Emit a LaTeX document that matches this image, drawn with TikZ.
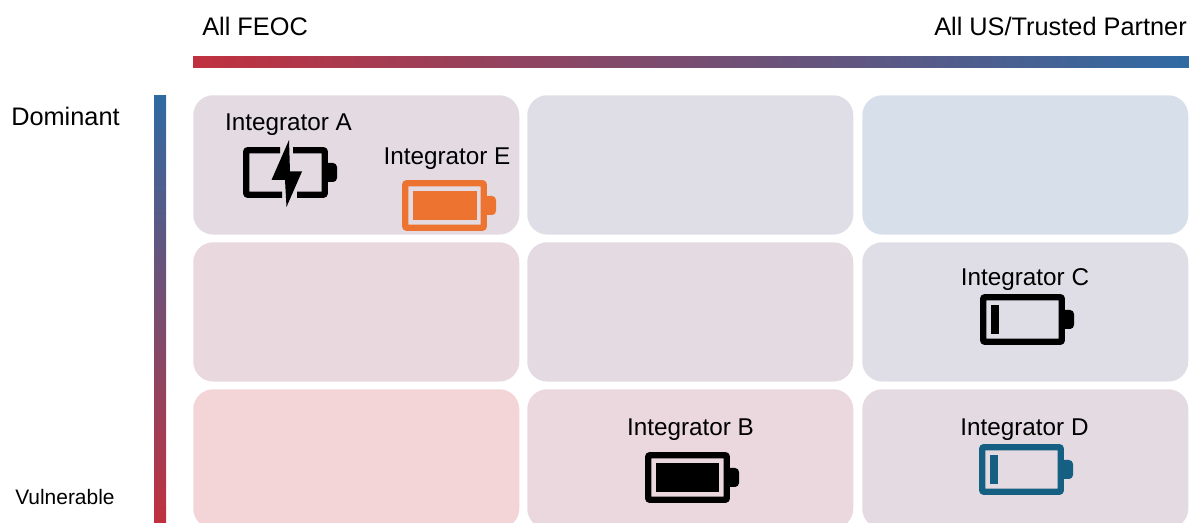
\documentclass[tikz,border=0pt]{standalone}
\usepackage{xcolor}
\usepackage{fontspec}
\setmainfont{Liberation Sans}
\usetikzlibrary{positioning}
\definecolor{gridred}{HTML}{C0313F}
\definecolor{gridblue}{HTML}{2F6AA3}
\definecolor{battorange}{HTML}{ED7430}
\definecolor{battblue}{HTML}{156082}
\definecolor{cellA}{HTML}{E3DAE2}
\definecolor{cellB}{HTML}{DFDEE7}
\definecolor{cellC}{HTML}{D7E0EA}
\definecolor{cellD}{HTML}{E9D9DF}
\definecolor{cellE}{HTML}{E3DAE2}
\definecolor{cellF}{HTML}{DFDEE7}
\definecolor{cellG}{HTML}{F3D5D8}
\definecolor{cellH}{HTML}{EBD7DE}
\definecolor{cellI}{HTML}{E3DAE2}
\tikzset{
	cellbox/.style={anchor=north west,inner sep=0pt,rounded corners=15pt,minimum width=244.5pt,minimum height=104.5pt},
	intlabel/.style={anchor=base,inner sep=0pt,font=\fontsize{18.2pt}{20pt}\selectfont},
	axislabel/.style={anchor=base west,inner sep=0pt,font=\fontsize{19pt}{22pt}\selectfont},
	pics/battery/.style args={#1/#2}{code={
		\draw[#1,line width=4.7pt,rounded corners=1.5pt] (3.15,3.15) rectangle (81.85,47.85);
		\fill[#1] (83,16) -- (90,16) to[out=0,in=90] (94,20) -- (94,31) to[out=-90,in=0] (90,35) -- (83,35) -- cycle;
		\fill[#1] (11,11) rectangle (#2,40);
	}}
}

\begin{document}
\begin{tikzpicture}[x=0.75pt,y=-0.75pt]
	\useasboundingbox (0,0) rectangle (1189,523);
	% colour bars
	\fill[left color=gridred,right color=gridblue] (193,56.5) rectangle (1189,68);
	\fill[top color=gridblue,bottom color=gridred] (154,95.5) rectangle (166,523);
	% grid cells
	\foreach \i/\cx/\cy in {A/193/95,B/527/95,C/862/95,D/193/242,E/527/242,F/862/242,G/193/389,H/527/389,I/862/389}{
		\node[cellbox,fill=cell\i] (cell\i) at (\cx,\cy) {};
	}
	% axis labels
	\node[axislabel] (feoc) at (202,36) {All FEOC};
	\node[axislabel,anchor=base east] (trusted) at (1187,36) {All US/Trusted Partner};
	\node[axislabel] (dominant) at (11,126) {Dominant};
	\node[axislabel,font=\fontsize{15.7pt}{18pt}\selectfont] (vulnerable) at (15,505) {Vulnerable};
	% integrators
	\node[intlabel] (intA) at (288.5,131) {Integrator A};
	\node[intlabel] (intE) at (447,164.5) {Integrator E};
	\node[intlabel] (intC) at (1025,286) {Integrator C};
	\node[intlabel] (intB) at (690.5,436) {Integrator B};
	\node[intlabel] (intD) at (1024.5,436) {Integrator D};
	\pic at (402,180) {battery={battorange/75}};
	\pic at (645,452) {battery={black/74}};
	\pic at (980,294) {battery={black/19}};
	\pic at (979,444) {battery={battblue/19}};
	% charging battery, outline broken by the bolt
	\draw[black,line width=4.7pt,rounded corners=1.5pt] (280,150.15) -- (246.15,150.15) -- (246.15,194.85) -- (282,194.85);
	\draw[black,line width=4.7pt,rounded corners=1.5pt] (293,150.15) -- (324.85,150.15) -- (324.85,194.85) -- (297,194.85);
	\fill[black] (326,163) -- (333,163) to[out=0,in=90] (337,167) -- (337,178) to[out=-90,in=0] (333,182) -- (326,182) -- cycle;
	\fill[black] (289,140) -- (271.5,180) -- (285,180) -- (286.5,207) -- (302,171.5) -- (290,171.5) -- cycle;
\end{tikzpicture}
\end{document}
